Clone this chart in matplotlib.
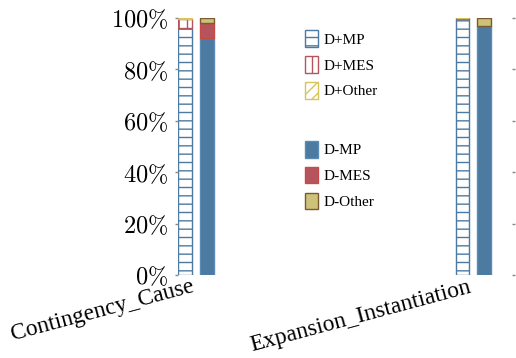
import numpy as np
import matplotlib
matplotlib.use("Agg")
import matplotlib.pyplot as plt
from matplotlib.patches import Patch

plt.rcParams['mathtext.fontset'] = 'cm'
plt.rcParams['hatch.linewidth'] = 1.0

# data (fractions of each relation)
relations = ["Contingency_Cause", "Expansion_Instantiation"]
plus_mp = [0.959, 0.994]
plus_mes = [0.035, 0.005]
plus_other = [0.006, 0.001]
minus_mp = [0.920, 0.969]
minus_mes = [0.062, 0.0]
minus_other = [0.018, 0.031]

c_mp = "#4c7aa0"
c_mes = "#b5545c"
c_other = "#cdc27a"

fig = plt.figure(figsize=(5.16, 3.58), dpi=100)
ax = fig.add_axes([0.345, 0.232, 0.647, 0.718])

x = np.arange(len(relations))
w = 0.05
off = 0.079

# hatched bars (D+)
b1 = np.array(plus_mp)
b2 = b1 + np.array(plus_mes)
ax.bar(x, plus_mp, w, color="white", edgecolor=c_mp, hatch="--", lw=1)
ax.bar(x, plus_mes, w, bottom=b1, color="white", edgecolor=c_mes, hatch="||", lw=1)
ax.bar(x, plus_other, w, bottom=b2, color="white", edgecolor="#d6c45a", hatch="///", lw=1)

# solid bars (D-)
s1 = np.array(minus_mp)
s2 = s1 + np.array(minus_mes)
ax.bar(x + off, minus_mp, w, color=c_mp, edgecolor="#5a8ab5", lw=1)
ax.bar(x + off, minus_mes, w, bottom=s1, color=c_mes, edgecolor="#c94848", lw=1)
ax.bar(x + off, minus_other, w, bottom=s2, color=c_other, edgecolor="#7a5a30", lw=1)

ax.set_xlim(-0.025, 1.178)
ax.set_ylim(0, 1.0)
ax.set_yticks(np.linspace(0, 1, 6))
ax.set_yticklabels([r"$%d\%%$" % v for v in range(0, 101, 20)], fontsize=17.5)
ax.yaxis.set_ticks_position("both")
ax.tick_params(axis="y", length=2, width=1, color="#888888", pad=5)
ax.set_xticks(x + off / 2)
ax.set_xticklabels(relations, rotation=15, ha="right", fontsize=16.8,
                   family="Liberation Serif")
ax.tick_params(axis="x", length=0, pad=1)
for s in ax.spines.values():
    s.set_visible(False)

h1 = [Patch(facecolor="white", edgecolor=c_mp, hatch="--", label="D+MP"),
      Patch(facecolor="white", edgecolor=c_mes, hatch="||", label="D+MES"),
      Patch(facecolor="white", edgecolor="#d6c45a", hatch="///", label="D+Other")]
h2 = [Patch(facecolor=c_mp, edgecolor="#5a8ab5", label="D-MP"),
      Patch(facecolor=c_mes, edgecolor="#c94848", label="D-MES"),
      Patch(facecolor=c_other, edgecolor="#7a5a30", label="D-Other")]
leg_kw = dict(frameon=False, handlelength=0.8, handleheight=1.3,
              handletextpad=0.4, labelspacing=0.6,
              prop={"family": "Liberation Serif", "size": 11})
leg1 = ax.legend(handles=h1, loc="upper left", bbox_to_anchor=(0.34, 1.005), **leg_kw)
ax.add_artist(leg1)
ax.legend(handles=h2, loc="upper left", bbox_to_anchor=(0.34, 0.575), **leg_kw)

fig.savefig("out.png", dpi=100)
